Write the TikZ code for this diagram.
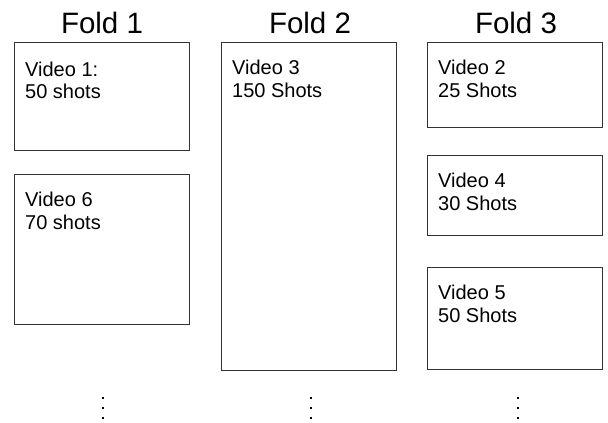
\documentclass[tikz,border=0pt]{standalone}
\usepackage{fontspec}
\setmainfont{Liberation Sans}
\usetikzlibrary{calc}
\begin{document}
\begin{tikzpicture}[x=1pt,y=-1pt,
  box/.style={draw=black!80,line width=0.9pt,anchor=north west,inner sep=0pt,fill=white},
  title/.style={font=\fontsize{29.5}{33}\selectfont,anchor=base,inner sep=0pt},
  lbl/.style={font=\fontsize{20}{23}\selectfont,anchor=base west,inner sep=0pt},
  dot/.style={fill=black}]
\useasboundingbox (0,0) rectangle (608,423);
% titles
\node[title] (t1) at (102,33) {Fold 1};
\node[title] (t2) at (310,33) {Fold 2};
\node[title] (t3) at (516,33) {Fold 3};
% boxes
\node[box,minimum width=175pt,minimum height=108pt] (b1) at (14,42) {};
\node[box,minimum width=175pt,minimum height=150pt] (b6) at (14,174) {};
\node[box,minimum width=175pt,minimum height=328pt] (b3) at (221,42) {};
\node[box,minimum width=175pt,minimum height=85pt] (b2) at (427,42) {};
\node[box,minimum width=175pt,minimum height=80pt] (b4) at (427,155) {};
\node[box,minimum width=175pt,minimum height=102pt] (b5) at (427,267) {};
% texts
\node[lbl] (l1a) at ($(b1.north west)+(11,34)$) {Video 1:};
\node[lbl] (l1b) at ($(b1.north west)+(11,56)$) {50 shots};
\node[lbl] (l6a) at ($(b6.north west)+(11,32)$) {Video 6};
\node[lbl] (l6b) at ($(b6.north west)+(11,55)$) {70 shots};
\node[lbl] (l3a) at ($(b3.north west)+(11,32)$) {Video 3};
\node[lbl] (l3b) at ($(b3.north west)+(11,55)$) {150 Shots};
\node[lbl] (l2a) at ($(b2.north west)+(11,32)$) {Video 2};
\node[lbl] (l2b) at ($(b2.north west)+(11,55)$) {25 Shots};
\node[lbl] (l4a) at ($(b4.north west)+(11,32)$) {Video 4};
\node[lbl] (l4b) at ($(b4.north west)+(11,55)$) {30 Shots};
\node[lbl] (l5a) at ($(b5.north west)+(11,32)$) {Video 5};
\node[lbl] (l5b) at ($(b5.north west)+(11,55)$) {50 Shots};
% vertical dots
\foreach \x in {103,311,518}{
  \foreach \y in {398,408,418}{
    \fill[dot] (\x-1.4,\y-1.4) rectangle (\x+1.4,\y+1.4);
  }
}
\end{tikzpicture}
\end{document}
